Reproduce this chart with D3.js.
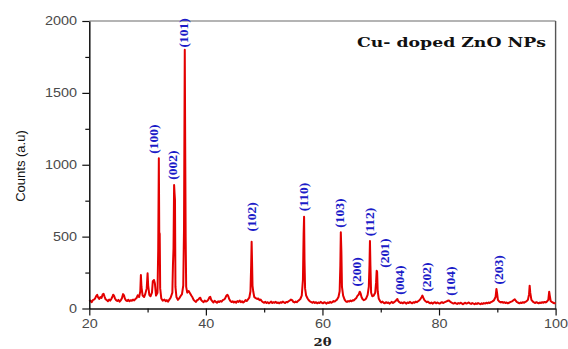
<!DOCTYPE html>
<html>
<head>
<meta charset="utf-8">
<script src="https://cdn.jsdelivr.net/npm/d3@7"></script>
<style>
  html, body { margin: 0; padding: 0; background: #ffffff; }
  svg { display: block; }
</style>
</head>
<body>
<div id="chart"></div>
<script>
// XRD scan, [2theta, counts]
const scan20to38 = [
  [20.0, 48], [20.2, 55], [20.4, 44], [20.6, 58], [20.8, 62], [21.0, 70], [21.2, 88], [21.35, 95],
  [21.5, 78], [21.7, 66], [21.9, 80], [22.1, 74], [22.3, 98], [22.45, 102], [22.6, 85], [22.8, 64],
  [23.0, 58], [23.2, 50], [23.4, 62], [23.6, 55], [23.8, 68], [24.0, 86], [24.1, 96], [24.25, 88],
  [24.4, 70], [24.6, 58], [24.8, 52], [25.0, 60], [25.2, 48], [25.4, 57], [25.6, 72], [25.8, 100],
  [25.95, 92], [26.1, 70], [26.3, 56], [26.5, 52], [26.7, 61], [26.9, 50], [27.1, 58], [27.3, 54],
  [27.5, 62], [27.7, 56], [27.9, 66], [28.1, 72], [28.3, 92], [28.55, 80], [28.75, 120], [28.85, 233],
  [28.95, 150], [29.15, 90], [29.4, 80], [29.6, 100], [29.85, 140], [30.0, 245], [30.1, 160], [30.3, 95],
  [30.5, 85], [30.75, 110], [30.9, 190], [31.1, 198], [31.25, 175], [31.45, 90], [31.7, 110], [31.82, 400],
  [31.93, 1045], [32.0, 530], [32.08, 520], [32.16, 140], [32.35, 70], [32.6, 55], [32.9, 62], [33.1, 50],
  [33.3, 58], [33.5, 48], [33.7, 60], [33.95, 75], [34.25, 110], [34.35, 300], [34.45, 420], [34.55, 859],
  [34.63, 800], [34.7, 755], [34.78, 150], [34.95, 80], [35.2, 60], [35.45, 72], [35.65, 85], [35.9, 100],
  [36.12, 160], [36.25, 560], [36.38, 1800], [36.45, 1165], [36.53, 500], [36.62, 150], [36.8, 110], [37.05, 122],
  [37.3, 105], [37.5, 90], [37.7, 78], [37.9, 60]
];

const scan38to58 = [
  [38.1, 52], [38.3, 46], [38.5, 58], [38.7, 62], [38.9, 72], [39.05, 75], [39.2, 58], [39.4, 50],
  [39.6, 44], [39.8, 55], [40.0, 48], [40.2, 52], [40.4, 60], [40.6, 78], [40.75, 82], [40.9, 62],
  [41.1, 50], [41.3, 42], [41.5, 54], [41.7, 46], [41.9, 40], [42.1, 50], [42.3, 45], [42.5, 52],
  [42.7, 48], [42.9, 58], [43.1, 62], [43.3, 70], [43.5, 88], [43.7, 95], [43.85, 85], [44.0, 66],
  [44.2, 52], [44.4, 45], [44.6, 50], [44.8, 42], [45.0, 48], [45.2, 40], [45.4, 52], [45.6, 46],
  [45.8, 55], [46.0, 44], [46.2, 50], [46.4, 42], [46.6, 48], [46.8, 58], [47.0, 52], [47.2, 62],
  [47.45, 75], [47.65, 120], [47.77, 300], [47.85, 465], [47.92, 330], [48.0, 160], [48.12, 120], [48.3, 80],
  [48.55, 72], [48.8, 66], [49.0, 70], [49.2, 58], [49.4, 62], [49.6, 50], [49.8, 44], [50.0, 40],
  [50.2, 46], [50.4, 38], [50.6, 44], [50.8, 36], [51.0, 42], [51.2, 48], [51.4, 38], [51.6, 44],
  [51.8, 40], [52.0, 46], [52.2, 38], [52.4, 42], [52.6, 36], [52.8, 44], [53.0, 40], [53.2, 48],
  [53.4, 42], [53.6, 38], [53.8, 46], [54.0, 44], [54.2, 50], [54.4, 56], [54.6, 62], [54.8, 58],
  [55.0, 46], [55.2, 42], [55.4, 48], [55.6, 44], [55.8, 52], [56.0, 58], [56.2, 66], [56.45, 90],
  [56.65, 200], [56.77, 520], [56.85, 639], [56.92, 340], [57.02, 140], [57.2, 90], [57.45, 70], [57.7, 55],
  [57.9, 48]
];

const scan58to78 = [
  [58.1, 44], [58.3, 40], [58.5, 46], [58.7, 38], [58.9, 44], [59.1, 36], [59.3, 42], [59.5, 38],
  [59.7, 46], [59.9, 40], [60.1, 36], [60.3, 44], [60.5, 40], [60.7, 34], [60.9, 42], [61.1, 38],
  [61.3, 46], [61.5, 40], [61.7, 44], [61.9, 52], [62.1, 48], [62.3, 56], [62.5, 62], [62.75, 80],
  [62.95, 120], [63.07, 300], [63.15, 530], [63.25, 395], [63.35, 150], [63.55, 90], [63.8, 62], [64.0, 50],
  [64.2, 46], [64.4, 52], [64.6, 48], [64.8, 55], [65.0, 50], [65.2, 58], [65.4, 56], [65.6, 66],
  [65.8, 72], [66.0, 88], [66.2, 95], [66.4, 117], [66.55, 105], [66.7, 80], [66.9, 64], [67.1, 58],
  [67.3, 62], [67.5, 70], [67.75, 95], [67.95, 150], [68.07, 300], [68.15, 470], [68.23, 300], [68.35, 110],
  [68.55, 85], [68.8, 90], [69.05, 110], [69.2, 180], [69.3, 263], [69.38, 255], [69.48, 120], [69.65, 70],
  [69.9, 50], [70.1, 42], [70.3, 48], [70.5, 40], [70.7, 36], [70.9, 44], [71.1, 38], [71.3, 42],
  [71.5, 34], [71.7, 40], [71.9, 46], [72.1, 38], [72.3, 44], [72.5, 50], [72.7, 60], [72.85, 66],
  [73.0, 52], [73.2, 44], [73.4, 38], [73.6, 42], [73.8, 36], [74.0, 44], [74.2, 40], [74.4, 34],
  [74.6, 42], [74.8, 38], [75.0, 46], [75.2, 40], [75.4, 36], [75.6, 44], [75.8, 40], [76.0, 48],
  [76.2, 44], [76.4, 50], [76.6, 56], [76.8, 66], [77.0, 78], [77.15, 90], [77.3, 75], [77.5, 58],
  [77.7, 50], [77.9, 44]
];

const scan78to100 = [
  [78.1, 48], [78.3, 40], [78.5, 36], [78.7, 42], [78.9, 34], [79.1, 40], [79.3, 44], [79.5, 36],
  [79.7, 42], [79.9, 38], [80.1, 34], [80.3, 40], [80.5, 44], [80.7, 38], [80.9, 42], [81.1, 46],
  [81.3, 50], [81.5, 54], [81.7, 56], [81.9, 48], [82.1, 42], [82.3, 38], [82.5, 34], [82.7, 40],
  [82.9, 36], [83.1, 32], [83.3, 38], [83.5, 34], [83.7, 40], [83.9, 36], [84.1, 30], [84.3, 36],
  [84.5, 40], [84.7, 34], [84.9, 38], [85.1, 42], [85.3, 36], [85.5, 32], [85.7, 38], [85.9, 34],
  [86.1, 30], [86.3, 36], [86.5, 32], [86.7, 38], [86.9, 34], [87.1, 30], [87.3, 36], [87.5, 32],
  [87.7, 38], [87.9, 34], [88.1, 40], [88.3, 36], [88.5, 42], [88.7, 38], [88.9, 44], [89.1, 48],
  [89.4, 56], [89.7, 80], [89.85, 136], [89.95, 110], [90.1, 60], [90.35, 48], [90.6, 42], [90.8, 46],
  [91.0, 40], [91.2, 44], [91.4, 38], [91.6, 42], [91.8, 36], [92.0, 40], [92.2, 44], [92.4, 48],
  [92.6, 52], [92.8, 58], [93.0, 64], [93.2, 52], [93.4, 44], [93.6, 40], [93.8, 36], [94.0, 42],
  [94.2, 38], [94.4, 44], [94.6, 40], [94.8, 46], [95.0, 50], [95.25, 60], [95.45, 100], [95.55, 159],
  [95.65, 110], [95.85, 60], [96.1, 48], [96.3, 42], [96.5, 38], [96.7, 44], [96.9, 40], [97.1, 36],
  [97.3, 42], [97.5, 38], [97.7, 44], [97.9, 40], [98.1, 46], [98.3, 42], [98.5, 48], [98.75, 60],
  [98.9, 117], [99.0, 90], [99.15, 52], [99.4, 44], [99.6, 40], [99.8, 36], [100.0, 38]
];

// Miller index labels and where they sit (2theta, counts at label centre)
const hklLabels = ['(100)', '(002)', '(101)', '(102)', '(110)', '(103)', '(200)',
  '(112)', '(201)', '(004)', '(202)', '(104)', '(203)'];
const hklTheta = [31.1, 34.24, 36.24, 47.86, 56.7, 63.0, 65.87, 68.15, 70.63, 73.3, 77.87, 82.04, 90.15];
const hklLevel = [1179, 998, 1917, 637, 776, 664, 254, 602, 386, 198, 219, 191, 268];

const xMajorTicks = [20, 40, 60, 80, 100];
const xMinorTicks = [30, 50, 70, 90];
const yMajorTicks = [0, 500, 1000, 1500, 2000];
const yMinorTicks = [250, 750, 1250, 1750];

const title = 'Cu- doped ZnO NPs';

const W = 568;
const H = 349;
const plot = { left: 89.3, right: 555.6, top: 21, bottom: 308.5 };
const STRETCH = 1.2; // the source image is a bit stretched sideways

const svg = d3.select('#chart')
  .append('svg')
  .attr('width', W)
  .attr('height', H);

const x = d3.scaleLinear().domain([20, 100]).range([plot.left, plot.right]);
const y = d3.scaleLinear().domain([0, 2000]).range([plot.bottom, plot.top]);

// frame on top / right
svg.append('line')
  .attr('x1', plot.left).attr('x2', plot.right)
  .attr('y1', plot.top).attr('y2', plot.top)
  .attr('stroke', '#6a6a6a').attr('stroke-width', 1.2);
svg.append('line')
  .attr('x1', plot.right).attr('x2', plot.right)
  .attr('y1', plot.top).attr('y2', plot.bottom)
  .attr('stroke', '#555').attr('stroke-width', 1.4);

// the scan
const scan = [...scan20to38, ...scan38to58, ...scan58to78, ...scan78to100];
const line = d3.line()
  .x((d) => x(d[0]))
  .y((d) => y(d[1]));

svg.append('path')
  .datum(scan)
  .attr('fill', 'none')
  .attr('stroke', '#e30000')
  .attr('stroke-width', 2)
  .attr('stroke-linejoin', 'round')
  .attr('d', line);

// axes
const tickFont = '"Liberation Sans", Arial, sans-serif';

const xAxis = svg.append('g')
  .attr('transform', `translate(0,${plot.bottom})`)
  .call(d3.axisBottom(x).tickValues(xMajorTicks).tickSize(7).tickSizeOuter(0).tickFormat(d3.format('d')));
xAxis.select('.domain').attr('stroke', '#111').attr('stroke-width', 1.5);
xAxis.selectAll('.tick line').attr('stroke', '#111').attr('stroke-width', 1.2);
xAxis.selectAll('text')
  .attr('y', 0)
  .attr('dy', '20')
  .attr('transform', `scale(${STRETCH},1)`)
  .attr('font-family', tickFont)
  .attr('font-size', '12px')
  .attr('fill', '#4a4a4a');

svg.append('g')
  .attr('transform', `translate(0,${plot.bottom})`)
  .call(d3.axisBottom(x).tickValues(xMinorTicks).tickSize(4).tickSizeOuter(0).tickFormat(''))
  .call((g) => g.select('.domain').remove())
  .selectAll('.tick line').attr('stroke', '#111').attr('stroke-width', 1.2);

const yAxis = svg.append('g')
  .attr('transform', `translate(${plot.left},0)`)
  .call(d3.axisLeft(y).tickValues(yMajorTicks).tickSize(7).tickSizeOuter(0).tickFormat(d3.format('d')));
yAxis.select('.domain').attr('stroke', '#111').attr('stroke-width', 1.5);
yAxis.selectAll('.tick line').attr('stroke', '#111').attr('stroke-width', 1.2);
yAxis.selectAll('text')
  .attr('x', -12.3 / STRETCH)
  .attr('transform', `scale(${STRETCH},1)`)
  .attr('font-family', tickFont)
  .attr('font-size', '12px')
  .attr('fill', '#4a4a4a');

svg.append('g')
  .attr('transform', `translate(${plot.left},0)`)
  .call(d3.axisLeft(y).tickValues(yMinorTicks).tickSize(4).tickSizeOuter(0).tickFormat(''))
  .call((g) => g.select('.domain').remove())
  .selectAll('.tick line').attr('stroke', '#111').attr('stroke-width', 1.2);

// axis titles
svg.append('text')
  .attr('transform', `translate(20,166) rotate(-90)`)
  .attr('text-anchor', 'middle')
  .attr('dominant-baseline', 'central')
  .attr('font-family', tickFont)
  .attr('font-size', '13px')
  .attr('fill', '#111')
  .text('Counts (a.u)');

svg.append('text')
  .attr('transform', `translate(${(plot.left + plot.right) / 2},345.5) scale(${STRETCH},1)`)
  .attr('text-anchor', 'middle')
  .attr('font-family', '"DejaVu Serif", serif')
  .attr('font-weight', 'bold')
  .attr('font-size', '11px')
  .attr('fill', '#222')
  .text('2θ');

// sample name
svg.append('text')
  .attr('x', 357)
  .attr('y', 46.5)
  .attr('textLength', 189)
  .attr('lengthAdjust', 'spacingAndGlyphs')
  .attr('font-family', '"DejaVu Serif", serif')
  .attr('font-weight', 'bold')
  .attr('font-size', '12.5px')
  .attr('fill', '#111')
  .text(title);

// peak labels
svg.append('g')
  .selectAll('text')
  .data(hklLabels)
  .enter()
  .append('text')
  .attr('transform', (d, i) => `translate(${x(hklTheta[i])},${y(hklLevel[i])}) rotate(-90)`)
  .attr('text-anchor', 'middle')
  .attr('dominant-baseline', 'central')
  .attr('font-family', '"Liberation Serif", "Times New Roman", serif')
  .attr('font-weight', 'bold')
  .attr('font-size', '13.5px')
  .attr('fill', '#1c1cc8')
  .text((d) => d);
</script>
</body>
</html>
